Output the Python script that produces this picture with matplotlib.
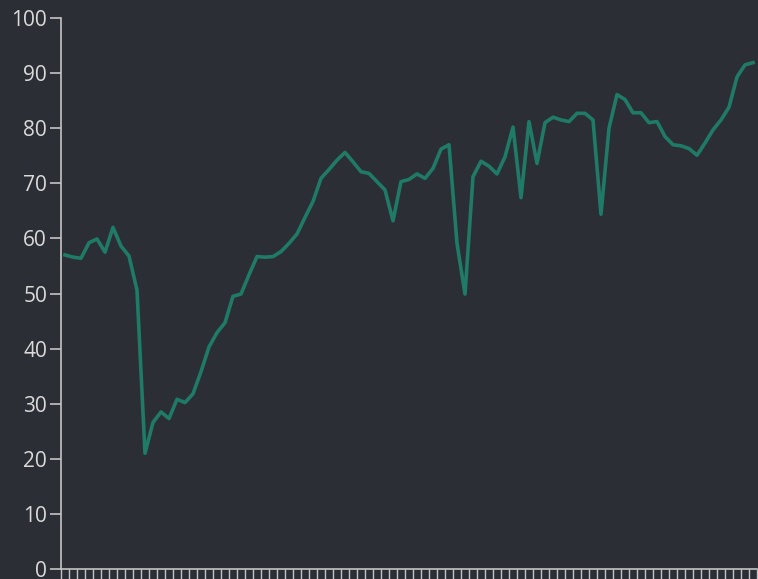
import matplotlib
matplotlib.use("Agg")
import matplotlib.pyplot as plt
import numpy as np

plt.rcParams['font.family'] = ['Open Sans', 'DejaVu Sans']

# serie mensal (0-100)
values = [
    57.0, 56.6, 56.4, 59.2, 59.9, 57.5, 62.0, 58.6, 56.8, 50.6,
    21.0, 26.6, 28.5, 27.3, 30.8, 30.2, 31.8, 35.8, 40.3, 42.9,
    44.7, 49.5, 49.9, 53.4, 56.7, 56.6, 56.7, 57.6, 59.1, 60.8,
    63.8, 66.7, 70.9, 72.5, 74.2, 75.6, 73.9, 72.1, 71.8, 70.3,
    68.8, 63.2, 70.3, 70.7, 71.7, 70.9, 72.7, 76.2, 77.0, 59.1,
    49.9, 71.2, 74.0, 73.1, 71.7, 74.8, 80.2, 67.4, 81.2, 73.6,
    81.0, 82.0, 81.5, 81.2, 82.7, 82.7, 81.5, 64.4, 80.0, 86.1,
    85.2, 82.8, 82.8, 81.0, 81.2, 78.5, 77.0, 76.8, 76.3, 75.1,
    77.3, 79.7, 81.5, 83.8, 89.3, 91.5, 91.9,
]
y_ticks = list(range(0, 101, 10))

bg = '#2b2e35'
axis_col = '#c4c4c4'
text_col = '#dadada'
line_col = '#1f7a66'

fig = plt.figure(figsize=(7.58, 5.79), dpi=100, facecolor=bg)
ax = fig.add_axes([61 / 758, 10 / 579, 696 / 758, 551 / 579], facecolor=bg)

x = np.arange(len(values))
ax.plot(x, values, color=line_col, lw=2.6, solid_joinstyle='round')

ax.set_xlim(-0.5, len(values) - 0.5)
ax.set_ylim(0, 100)

# ticks do eixo x nas fronteiras das categorias
ax.set_xticks(np.arange(len(values) + 1) - 0.5)
ax.set_xticklabels([])
ax.set_yticks(y_ticks)
ax.set_yticklabels([str(v) for v in y_ticks])

for side in ['top', 'right']:
    ax.spines[side].set_visible(False)
for side in ['left', 'bottom']:
    ax.spines[side].set_color(axis_col)
    ax.spines[side].set_linewidth(1.2)

ax.tick_params(axis='y', colors=axis_col, labelcolor=text_col, length=8,
               width=1.2, pad=2, labelsize=15)
ax.tick_params(axis='x', colors=axis_col, length=10, width=1.0)

fig.savefig('out.png', dpi=100, facecolor=bg)
